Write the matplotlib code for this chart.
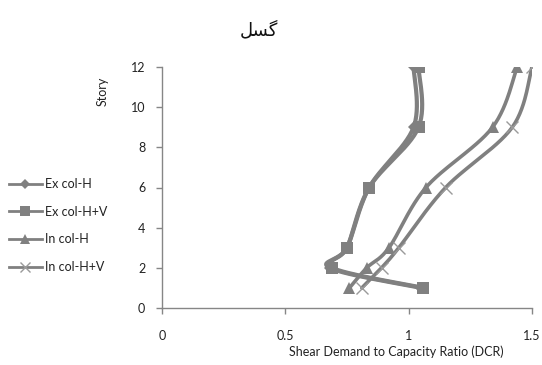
import numpy as np
import matplotlib
matplotlib.use("Agg")
import matplotlib.pyplot as plt
from matplotlib.lines import Line2D

# ---- data ----
stories = [1, 2, 3, 6, 9, 12]
ex_col_h = [1.05, 0.68, 0.75, 0.84, 1.02, 1.02]
ex_col_hv = [1.06, 0.69, 0.75, 0.84, 1.04, 1.04]
in_col_h = [0.76, 0.83, 0.92, 1.07, 1.34, 1.44]
in_col_hv = [0.81, 0.89, 0.96, 1.15, 1.42, 1.50]
series_names = ["Ex col-H", "Ex col-H+V", "In col-H", "In col-H+V"]
x_ticks = [0, 0.5, 1, 1.5]
x_tick_labels = ["0", "0.5", "1", "1.5"]
y_ticks = [0, 2, 4, 6, 8, 10, 12]
title_text = "\uFEDE\uFEB4\uFB94"  # "گسل" in visual (shaped) order
x_label = "Shear Demand to Capacity Ratio (DCR)"
y_label = "Story"

plt.rcParams['font.family'] = ['Lato', 'DejaVu Sans']


def smooth(xs, ys, n=30):
    """Excel-like smoothed line (Catmull-Rom Bezier) through the points."""
    p = np.column_stack([xs, ys]).astype(float)
    pts = np.vstack([p[0], p, p[-1]])
    out = []
    t = np.linspace(0, 1, n)[:, None]
    for i in range(1, len(pts) - 2):
        p0, p1, p2, p3 = pts[i - 1], pts[i], pts[i + 1], pts[i + 2]
        c1 = p1 + (p2 - p0) / 6.0
        c2 = p2 - (p3 - p1) / 6.0
        seg = ((1 - t) ** 3) * p1 + 3 * ((1 - t) ** 2) * t * c1 + 3 * (1 - t) * t ** 2 * c2 + t ** 3 * p2
        out.append(seg if i == 1 else seg[1:])
    s = np.vstack(out)
    return s[:, 0], s[:, 1]


fig = plt.figure(figsize=(5.42, 3.65), dpi=100)
ax = fig.add_axes([162 / 542, 1 - 308 / 365, 370 / 542, 241 / 365])

grey = "#808080"
light = "#9a9a9a"

styles = [
    dict(data=ex_col_h, marker="D", ms=6, lw=3.0, mfc=grey, mec=grey, mew=0),
    dict(data=ex_col_hv, marker="s", ms=9, lw=3.0, mfc=grey, mec=grey, mew=0),
    dict(data=in_col_h, marker="^", ms=9, lw=2.6, mfc=grey, mec=grey, mew=0),
    dict(data=in_col_hv, marker="x", ms=9, lw=2.6, mfc=light, mec=light, mew=1.0),
]

handles = []
for name, st in zip(series_names, styles):
    sx, sy = smooth(st["data"], stories)
    ax.plot(sx, sy, color=grey, lw=st["lw"], solid_capstyle="round", zorder=2)
    ax.plot(st["data"], stories, linestyle="none", marker=st["marker"], ms=st["ms"],
            mfc=st["mfc"], mec=st["mec"], mew=st["mew"], zorder=3)
    handles.append(Line2D([0], [0], color=grey, lw=2.0, marker=st["marker"],
                          ms=st["ms"] * 0.8, mfc=st["mfc"], mec=st["mec"],
                          mew=st["mew"], label=name))

ax.set_xlim(0, 1.5)
ax.set_ylim(0, 12)
ax.set_xticks(x_ticks)
ax.set_xticklabels(x_tick_labels)
ax.set_yticks(y_ticks)
for s in ["top", "right"]:
    ax.spines[s].set_visible(False)
for s in ["left", "bottom"]:
    ax.spines[s].set_color("#868686")
    ax.spines[s].set_linewidth(1.0)
ax.tick_params(axis="both", colors="#868686", labelcolor="#222222", labelsize=9,
               length=4, width=1.0, direction="out")
ax.tick_params(axis="x", pad=12)
ax.tick_params(axis="y", pad=8)

fig.text(396 / 542, 1 - 352 / 365, x_label, ha="center", va="center",
         fontsize=9, color="#222222")
fig.text(103 / 542, 1 - 91 / 365, y_label, ha="center", va="center",
         rotation=90, fontsize=9, color="#222222")
fig.text(259 / 542, 1 - 30 / 365, title_text, ha="center", va="center",
         fontsize=13, color="#111111", family=['DejaVu Sans'])

fig.legend(handles=handles, loc="upper left", bbox_to_anchor=(4 / 542, 1 - 173 / 365),
           frameon=False, fontsize=9, handlelength=2.6, handletextpad=0.3,
           labelspacing=1.25, borderaxespad=0, labelcolor="#222222")

fig.savefig("out.png", dpi=100)
